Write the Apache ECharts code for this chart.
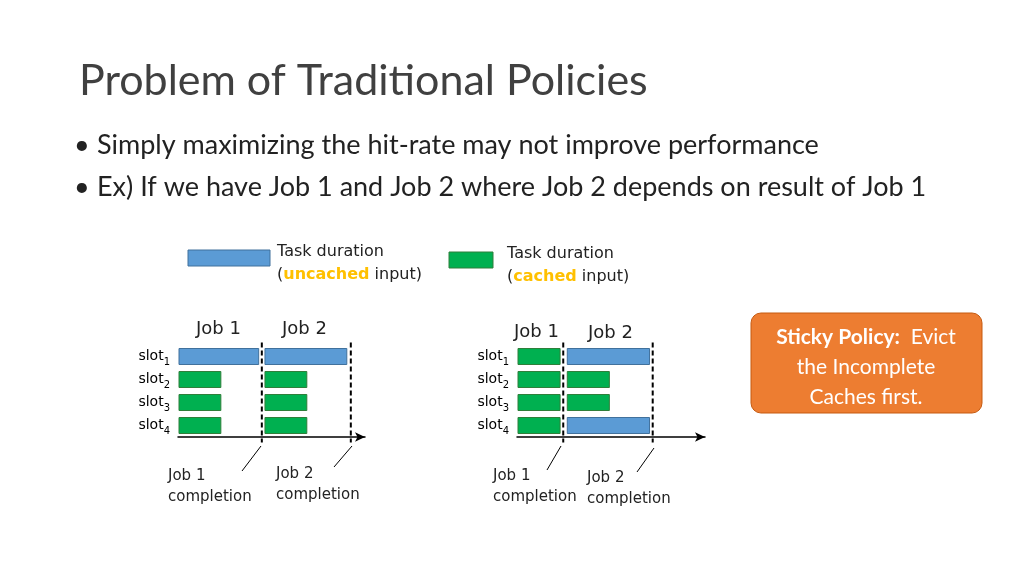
<!DOCTYPE html>
<html><head><meta charset="utf-8">
<script src="https://cdn.jsdelivr.net/npm/echarts@6/dist/echarts.min.js"></script>
<style>html,body{margin:0;padding:0;background:#fff}#c{width:1024px;height:576px}</style>
</head><body><div id="c"></div>
<script>
var slots = ['slot4','slot3','slot2','slot1'];
// tasks: [slotIndex, start, end, type]
var leftTasks = [[3,0,1.9,'u'],[2,0,1.02,'c'],[1,0,1.02,'c'],[0,0,1.02,'c'],
                 [3,2.0,3.95,'u'],[2,2.0,3.02,'c'],[1,2.0,3.02,'c'],[0,2.0,3.02,'c']];
var rightTasks = [[3,0,1.02,'c'],[2,0,1.02,'c'],[1,0,1.02,'c'],[0,0,1.02,'c'],
                  [3,1.14,3.09,'u'],[2,1.14,2.16,'c'],[1,1.14,2.16,'c'],[0,1.14,3.09,'u']];
var leftDone = [1.95,4.02];
var rightDone = [1.07,3.14];

var F = 'Lato, "Open Sans", sans-serif';
var D = '"DejaVu Sans", sans-serif';
var colors = {u:{fill:'#5B9BD5',stroke:'#41719C'}, c:{fill:'#00B050',stroke:'#2F7F3A'}};
var types = {0:leftTasks.map(function(d){return d[3];}), 2:rightTasks.map(function(d){return d[3];})};

function barItem(params, api){
  var y = api.value(0), s = api.coord([api.value(1), y]), e = api.coord([api.value(2), y]);
  var t = types[params.seriesIndex][params.dataIndex];
  return {type:'rect', shape:{x:s[0]+1,y:s[1]-8,width:e[0]-s[0]-2,height:16},
    style:{fill:colors[t].fill,stroke:colors[t].stroke,lineWidth:1}};
}
function dashItem(params, api){
  var a = api.coord([api.value(0), 3]), b = api.coord([api.value(0), 0]);
  return {type:'line', shape:{x1:a[0],y1:a[1]-14,x2:b[0],y2:b[1]+17},
    style:{stroke:'#000',lineWidth:2,lineDash:[5,3]}};
}
function yAx(gi){
  return {type:'category', gridIndex:gi, data:slots, axisLine:{show:false}, axisTick:{show:false},
    axisLabel:{margin:8, fontFamily:D, fontSize:14, color:'#000',
      formatter:function(v){return 'slot{s|'+v.slice(4)+'}';},
      rich:{s:{fontSize:10, verticalAlign:'bottom', padding:[12,0,0,0], fontFamily:D}}}};
}
function xAx(gi){
  return {type:'value', gridIndex:gi, min:0, max:4.35, splitLine:{show:false}, axisTick:{show:false}, axisLabel:{show:false},
    axisLine:{show:true, lineStyle:{color:'#000',width:1.5}, symbol:['none','arrow'], symbolSize:[7,10]}};
}
function txt(x,y,t,size,opt){
  return {type:'text', left:x, top:y, style:Object.assign({text:t, fontSize:size, fontFamily:F, fill:'#222'}, opt||{})};
}
function ln(x1,y1,x2,y2){return {type:'line',shape:{x1:x1,y1:y1,x2:x2,y2:y2},style:{stroke:'#000',lineWidth:1}};}
var rich = {o:{fill:'#FFC000',fontWeight:'bold',fontSize:16,fontFamily:D}};
var chart = echarts.init(document.getElementById('c'));
chart.setOption({
  animation:false,
  grid:[{left:178, top:345, width:187, height:92},{left:517, top:345, width:188, height:92}],
  xAxis:[xAx(0), xAx(1)],
  yAxis:[yAx(0), yAx(1)],
  series:[
    {type:'custom', xAxisIndex:0, yAxisIndex:0, renderItem:barItem, data:leftTasks.map(function(d){return d.slice(0,3);})},
    {type:'custom', xAxisIndex:0, yAxisIndex:0, renderItem:dashItem, data:leftDone.map(function(v){return [v];})},
    {type:'custom', xAxisIndex:1, yAxisIndex:1, renderItem:barItem, data:rightTasks.map(function(d){return d.slice(0,3);})},
    {type:'custom', xAxisIndex:1, yAxisIndex:1, renderItem:dashItem, data:rightDone.map(function(v){return [v];})}
  ],
  graphic:[
    txt(79,60,'Problem of Traditional Policies',43,{fill:'#404040'}),
    txt(74,132,'•',27), txt(97,132,'Simply maximizing the hit-rate may not improve performance',27),
    txt(74,174,'•',27), txt(97,174,'Ex) If we have Job 1 and Job 2 where Job 2 depends on result of Job 1',27),
    {type:'rect', shape:{x:188,y:250,width:82,height:16}, style:{fill:'#5B9BD5',stroke:'#41719C'}},
    txt(277,244,'Task duration',16,{fontFamily:D}),
    txt(277,267,'({o|uncached} input)',16,{fontFamily:D, rich:rich}),
    {type:'rect', shape:{x:449,y:252,width:44,height:16}, style:{fill:'#00B050',stroke:'#2F7F3A'}},
    txt(507,246,'Task duration',16,{fontFamily:D}),
    txt(507,269,'({o|cached} input)',16,{fontFamily:D, rich:rich}),
    txt(196,320,'Job 1',18,{fontFamily:D}), txt(282,320,'Job 2',18,{fontFamily:D}),
    txt(514,323,'Job 1',18,{fontFamily:D}), txt(588,324,'Job 2',18,{fontFamily:D}),
    {type:'rect', shape:{x:751,y:313,width:231,height:100,r:10}, style:{fill:'#ED7D31',stroke:'#C55A11',lineWidth:1}},
    {type:'text', x:866, y:322, style:{text:'{b|Sticky Policy:}  Evict\nthe Incomplete\nCaches first.', align:'center',
      fontSize:21, lineHeight:30, fontFamily:F, fill:'#fff', rich:{b:{fontWeight:'bold',fontSize:21,fill:'#fff',fontFamily:F}}}},
    ln(242,471,261,446), ln(334,467,352,446), ln(547,470,561,446), ln(637,472,654,448),
    txt(168,466,'Job 1\ncompletion',15,{fontFamily:D,lineHeight:21}),
    txt(276,464,'Job 2\ncompletion',15,{fontFamily:D,lineHeight:21}),
    txt(493,466,'Job 1\ncompletion',15,{fontFamily:D,lineHeight:21}),
    txt(587,468,'Job 2\ncompletion',15,{fontFamily:D,lineHeight:21})
  ]
});
</script></body></html>
